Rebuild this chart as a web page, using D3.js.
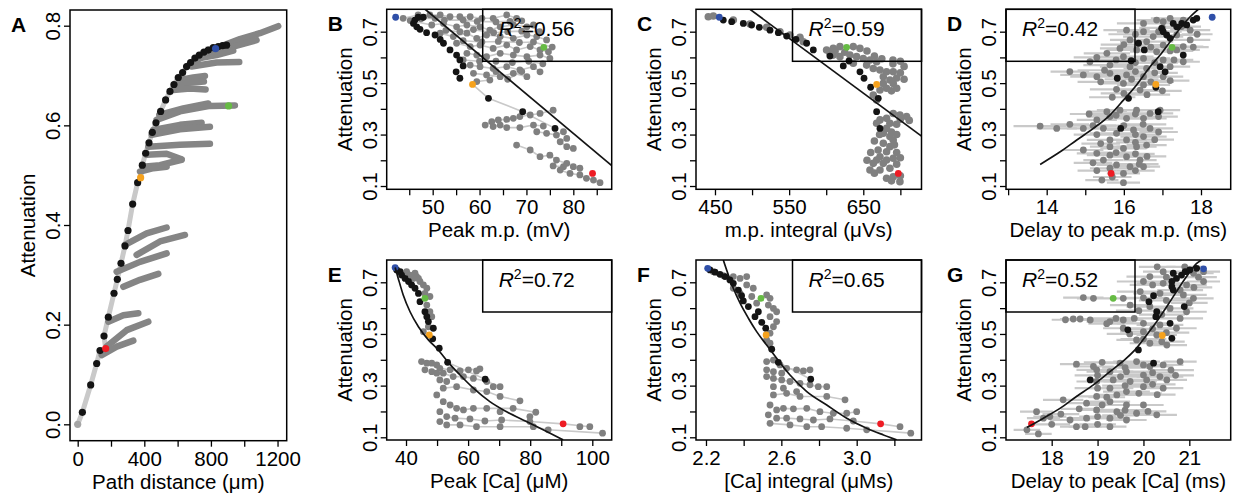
<!DOCTYPE html>
<html>
<head>
<meta charset="utf-8">
<script src="https://cdn.jsdelivr.net/npm/d3@7"></script>
<style>
  body { margin: 0; background: #fff; }
  svg { display: block; font-family: "Liberation Sans", Arial, Helvetica, sans-serif; }
</style>
</head>
<body>
<svg id="chart"></svg>
<script>
// ---- data ----

// A: attenuation vs path distance
const aOrigin = [0, 0.0];
const aBlack = [[28,0.024],[78,0.079],[114,0.122],[134,0.148],[158,0.177],[184,0.215],[218,0.263],[238,0.291],
  [260,0.323],[284,0.358],[302,0.389],[330,0.442],[360,0.485],[388,0.520],[408,0.544],[428,0.565],[448,0.586],
  [470,0.605],[498,0.628],[528,0.651],[554,0.668],[578,0.682],[604,0.696],[630,0.706],[654,0.718],[678,0.726],
  [704,0.735],[730,0.741],[758,0.747],[784,0.751],[814,0.756],[844,0.758],[870,0.760],[894,0.761]];
const aBranches = [
  [[654,0.718],[834,0.755],[974,0.773],[1094,0.785],[1204,0.799]],
  [[814,0.748],[934,0.758],[1074,0.771]],
  [[734,0.735],[834,0.741],[934,0.750]],
  [[684,0.718],[834,0.726],[970,0.727]],
  [[614,0.691],[694,0.696],[764,0.699]],
  [[604,0.683],[684,0.686],[758,0.688]],
  [[574,0.671],[674,0.674],[768,0.672]],
  [[490,0.621],[634,0.634],[784,0.644]],
  [[474,0.611],[614,0.628],[794,0.639],[944,0.640]],
  [[454,0.591],[614,0.601],[744,0.605]],
  [[444,0.581],[614,0.592],[794,0.597]],
  [[424,0.557],[614,0.561],[794,0.563]],
  [[414,0.541],[534,0.543],[624,0.532]],
  [[394,0.517],[494,0.520],[624,0.531]],
  [[374,0.507],[454,0.514],[534,0.517]],
  [[284,0.360],[414,0.383],[534,0.395]],
  [[354,0.340],[494,0.367],[644,0.380]],
  [[234,0.306],[374,0.326],[534,0.343]],
  [[274,0.276],[374,0.290],[484,0.302]],
  [[184,0.206],[274,0.219],[364,0.223]],
  [[174,0.156],[294,0.189],[424,0.206]],
  [[144,0.139],[234,0.156],[334,0.168]]
];
// highlighted sites: blue, green, orange, red
const aHigh = [[828,0.754],[906,0.639],[378,0.495],[168,0.152]];

// B: attenuation vs peak m.p.
const bRows = [
  [[43.7,0.752],[46.9,0.765],[49.4,0.765],[51.6,0.765],[53.7,0.758],[55.8,0.758],[58.0,0.758],[60.5,0.752],[62.9,0.752],[65.8,0.765],[67.9,0.752]],
  [[47.5,0.750],[50.5,0.752],[52.5,0.745],[56.5,0.745],[59.5,0.740],[63.5,0.738],[66.5,0.740],[69.0,0.742]],
  [[45.2,0.743],[49.8,0.726],[52.3,0.732],[55.1,0.719],[57.3,0.726],[60.1,0.719],[62.2,0.706],[64.4,0.719],[67.2,0.726],[70.1,0.719],[71.5,0.726]],
  [[52.8,0.705],[55.8,0.700],[58.7,0.708],[63.0,0.696],[66.0,0.700],[69.0,0.702],[72.8,0.700]],
  [[51.6,0.694],[54.4,0.681],[57.3,0.694],[59.4,0.674],[61.5,0.687],[64.4,0.681],[67.2,0.674],[70.1,0.687],[72.2,0.681],[74.3,0.668]],
  [[56.5,0.665],[60.5,0.660],[64.0,0.662],[68.5,0.658],[71.5,0.660],[75.5,0.640]],
  [[55.1,0.655],[58.0,0.642],[60.1,0.648],[62.9,0.635],[65.8,0.648],[67.9,0.629],[70.8,0.642],[72.9,0.629],[74.7,0.622]],
  [[57.3,0.616],[59.4,0.609],[61.5,0.603],[64.4,0.616],[67.2,0.609],[70.1,0.603],[72.9,0.609],[75.0,0.596]],
  [[56.5,0.590],[60.0,0.585],[63.5,0.585],[67.0,0.580],[70.5,0.585],[73.5,0.575]],
  [[58.0,0.570],[60.1,0.564],[62.9,0.557],[65.8,0.564],[68.6,0.551],[71.5,0.564],[72.9,0.544]],
  [[58.7,0.538],[61.5,0.532],[64.4,0.525],[67.2,0.538],[70.1,0.525]],
  [[59.4,0.506],[62.2,0.512],[63.5,0.545],[66.0,0.515],[69.0,0.545]],
  [[61.2,0.337],[62.6,0.350],[64.0,0.357],[65.8,0.359],[67.2,0.363],[68.6,0.370],[70.8,0.376],[72.9,0.382],[75.7,0.395]],
  [[62.9,0.331],[64.4,0.337],[65.8,0.327],[68.6,0.327],[71.5,0.337],[73.6,0.333]],
  [[72.2,0.311],[74.3,0.305],[76.4,0.298],[77.9,0.311]],
  [[78.6,0.285],[77.2,0.272],[78.6,0.253],[80.0,0.246]],
  [[67.9,0.259],[70.8,0.240],[72.9,0.214],[75.0,0.220],[76.4,0.201],[78.6,0.188],[80.0,0.175],[81.4,0.169]],
  [[75.7,0.178],[77.9,0.175],[77.2,0.162],[79.3,0.149],[81.4,0.143],[82.8,0.130],[84.3,0.123],[85.7,0.113]]
];
const bTrunk = [[58.5,0.495],[61.9,0.441],[69.2,0.389],[76.1,0.324]];
const bBlack = [[45.9,0.732],[46.2,0.745],[46.9,0.756],[48.0,0.756],[46.6,0.719],[47.3,0.709],[48.7,0.696],[50.5,0.687],
  [51.6,0.670],[52.3,0.655],[53.7,0.629],[55.1,0.609],[55.8,0.590],[56.5,0.567],[55.0,0.544],[55.8,0.519],
  [61.9,0.441],[69.2,0.389],[76.1,0.324]];
const bHigh = [[42.1,0.756],[73.7,0.639],[58.5,0.495],[84.1,0.149]];
const bFit = [[48.4,0.787],[88.2,0.179]];

// C: attenuation vs m.p. integral
const cGray = [[441.0,0.758],[447.8,0.761],[474.7,0.745],[497.2,0.730],[519.7,0.717],[537.6,0.700],[551.1,0.687],[564.6,0.678],[569.1,0.661],
  [600.5,0.629],[609.5,0.635],[618.5,0.642],[636.5,0.642],[645.5,0.635],[612,0.625],[625,0.620],[655,0.625],
  [605.0,0.616],[609.5,0.609],[618.5,0.603],[632.0,0.609],[641.0,0.603],[650.0,0.596],[659.0,0.590],[668.0,0.583],
  [665,0.605],[675,0.595],[690,0.590],[700,0.585],[690,0.575],[705,0.565],[700,0.540],[695,0.520],[705,0.515],
  [636.5,0.577],[654.5,0.570],[663.5,0.557],[672.5,0.551],[681.4,0.544],[690.4,0.544],
  [677.0,0.525],[685.9,0.512],[690.4,0.499],[677.0,0.499],[681.4,0.480],[672.5,0.473],[663.5,0.454],[668.0,0.434],
  [688,0.470],[695,0.480],
  [668.0,0.344],[672.5,0.357],[681.4,0.363],[690.4,0.382],[699.4,0.376],[708.4,0.370],[700,0.360],[712,0.355],[695,0.340],
  [685.9,0.344],[681.4,0.324],[677.0,0.305],[685.9,0.292],[690.4,0.279],[677.0,0.266],[685.9,0.253],[681.4,0.233],
  [688,0.310],[695,0.300],[672,0.300],[665,0.275],[692,0.260],[670,0.240],[695,0.230],[660,0.230],
  [672.5,0.214],[668.0,0.201],[681.4,0.201],[690.4,0.208],[677.0,0.188],[663.5,0.188],[700,0.210],[655,0.200],[695,0.185],
  [659.0,0.162],[672.5,0.162],[685.9,0.169],[681.4,0.130],[690.4,0.136],[699.4,0.117],[665,0.150],[700,0.140],[688,0.120]];
const cBlack = [[461.2,0.745],[472.5,0.739],[488.2,0.732],[499.4,0.726],[509.8,0.717],[524.2,0.706],[535.4,0.696],
  [546.6,0.683],[559.2,0.670],[573.6,0.655],[582.6,0.629],[605.0,0.605],[623.0,0.567],[630.7,0.586],[645.5,0.544],
  [651.0,0.519],[659.9,0.484],[670.2,0.441],[668.0,0.389],[672.5,0.324]];
const cHigh = [[455.8,0.756],[627.5,0.639],[668.0,0.495],[697.2,0.149]];
const cFit = [[497.2,0.787],[728.5,0.294]];

// D: attenuation vs delay to peak m.p. (x, y, half error)
const dGray = [[16.85,0.745,0.52],[16.51,0.732,0.69],[17.02,0.739,0.60],[17.54,0.745,0.43],[17.72,0.706,0.52],
  [16.07,0.706,0.60],[16.51,0.700,0.69],[16.76,0.681,0.78],[17.37,0.687,0.60],[17.72,0.668,0.52],[16.16,0.668,0.52],
  [16.59,0.661,0.69],[17.02,0.648,0.60],[17.54,0.642,0.52],[15.90,0.635,0.52],[16.33,0.629,0.78],[16.85,0.622,0.69],
  [17.37,0.629,0.60],[15.56,0.616,0.60],[15.99,0.603,0.78],[16.51,0.596,0.69],[17.02,0.590,0.60],[17.54,0.583,0.43],
  [15.12,0.583,0.52],[15.64,0.570,0.69],[16.16,0.564,0.78],[16.59,0.557,0.60],[17.20,0.564,0.52],[14.95,0.532,0.60],
  [15.30,0.525,0.69],[15.64,0.538,0.78],[16.07,0.532,0.69],[16.51,0.525,0.60],[17.02,0.525,0.52],[15.99,0.499,0.60],
  [16.51,0.493,0.69],[15.81,0.476,0.69],[16.42,0.473,0.60],
  [17.2,0.752,0.5],[17.5,0.720,0.5],[17.0,0.715,0.6],[16.3,0.690,0.7],[16.9,0.700,0.6],[17.9,0.690,0.4],[16.0,0.650,0.6],
  [16.7,0.640,0.7],[17.2,0.625,0.6],[17.8,0.640,0.4],[15.3,0.600,0.6],[15.8,0.590,0.7],[16.3,0.580,0.7],[16.8,0.580,0.6],
  [17.3,0.590,0.5],[14.6,0.545,0.5],[15.5,0.550,0.7],[16.3,0.545,0.7],[16.8,0.540,0.6],[15.4,0.505,0.6],[16.2,0.515,0.7],
  [16.7,0.505,0.6],[17.2,0.510,0.5],[16.0,0.460,0.6],[16.6,0.455,0.6],[15.7,0.445,0.6],[17.0,0.470,0.5],
  [15.56,0.389,0.52],[15.90,0.395,0.60],[16.33,0.395,0.69],[16.68,0.382,0.60],[16.94,0.395,0.52],[15.64,0.370,0.60],
  [16.07,0.363,0.69],[16.51,0.363,0.60],[15.30,0.357,0.52],[14.95,0.324,0.43],[14.26,0.324,0.52],[13.83,0.333,0.69],
  [15.47,0.324,0.60],[15.81,0.305,0.69],[16.25,0.318,0.69],[16.68,0.324,0.60],[15.64,0.279,0.60],[16.07,0.279,0.52],
  [16.51,0.292,0.60],[15.64,0.253,0.52],[15.99,0.246,0.60],[16.33,0.253,0.52],[16.59,0.259,0.52],[15.30,0.227,0.52],
  [15.64,0.220,0.60],[16.07,0.214,0.52],[16.42,0.201,0.43],[15.47,0.201,0.52],[15.81,0.182,0.52],[16.16,0.175,0.52],
  [16.51,0.175,0.43],[15.64,0.169,0.52],[15.99,0.149,0.43],[15.43,0.123,0.43],[15.99,0.113,0.43],[14.95,0.240,0.52],
  [15.1,0.380,0.5],[15.8,0.375,0.6],[16.3,0.380,0.6],[16.9,0.370,0.5],[14.6,0.340,0.5],[15.2,0.335,0.6],[16.0,0.335,0.6],
  [16.5,0.340,0.6],[15.3,0.300,0.6],[16.3,0.300,0.6],[16.9,0.310,0.5],[15.4,0.265,0.5],[16.3,0.270,0.5],[16.8,0.280,0.5],
  [15.8,0.230,0.6],[16.3,0.225,0.5],[15.2,0.190,0.5],[16.4,0.185,0.5],[15.3,0.160,0.5],[16.3,0.160,0.5],[15.7,0.135,0.5],
  [16.6,0.215,0.5]];
const dBlack = [[17.28,0.732],[17.37,0.719],[17.50,0.732],[17.63,0.726],[17.80,0.745],[17.89,0.752],[16.98,0.713],
  [17.02,0.700],[17.11,0.687],[17.20,0.674],[16.38,0.655],[16.53,0.629],[16.19,0.587],[16.94,0.564],[17.07,0.544],
  [17.54,0.609],[15.83,0.519],[16.12,0.441],[16.89,0.389],[15.92,0.324],[16.83,0.484]];
const dHigh = [[18.29,0.756],[17.25,0.639],[16.83,0.495],[15.67,0.149]];
const dFit = [[13.83,0.184],[14.35,0.233],[14.78,0.279],[15.21,0.324],[15.64,0.376],[15.99,0.434],[16.33,0.493],
  [16.68,0.564],[16.94,0.609],[17.20,0.661],[17.46,0.713],[17.72,0.758],[17.93,0.787]];

// E: attenuation vs peak [Ca]
const eGray = [[40.2,0.741],[41.3,0.728],[42.4,0.715],[43.4,0.722],[44.5,0.703],[45.6,0.690],[46.7,0.677],[44.0,0.715],
  [42.9,0.735],[46.1,0.657],[47.7,0.645],[46.7,0.612],[47.7,0.586],[48.3,0.567],[47.2,0.528],[45.6,0.509],
  [45.0,0.393],[46.7,0.387],[48.3,0.387],[49.9,0.380],[50.9,0.367],[46.1,0.361],[48.3,0.354],[49.9,0.348],[52.0,0.348],
  [54.2,0.361],[57.4,0.357],[60.1,0.361],[62.7,0.357],[63.8,0.365],[55.2,0.335],[58.5,0.335],[61.7,0.328],[66.0,0.316],
  [68.1,0.296],[70.3,0.296],[50.9,0.322],[53.1,0.316],[52.0,0.290],[49.9,0.264],[56.3,0.296],[61.7,0.283],[66.0,0.277],
  [70.3,0.258],[76.7,0.241],[52.0,0.238],[54.2,0.225],[56.3,0.212],[58.5,0.206],[61.7,0.212],[66.0,0.212],[70.3,0.199],
  [74.5,0.212],[79.9,0.180],[81.8,0.197],[50.9,0.199],[53.1,0.180],[55.8,0.174],[60.6,0.171],[65.4,0.163],[70.8,0.167],
  [79.9,0.161],[50.9,0.161],[53.1,0.148],[57.4,0.148],[62.7,0.141],[70.3,0.141],[81.0,0.141],[85.8,0.129],[96.0,0.141],
  [99.2,0.141],[103.3,0.116]];
const eLinks = [
  [[50.9,0.367],[54.2,0.361],[57.4,0.357],[60.1,0.361],[63.8,0.365]],
  [[52.0,0.348],[55.2,0.335],[58.5,0.335],[61.7,0.328],[66.0,0.316],[70.3,0.296]],
  [[52.0,0.290],[56.3,0.296],[61.7,0.283],[66.0,0.277],[70.3,0.258],[76.7,0.241]],
  [[54.2,0.225],[58.5,0.206],[61.7,0.212],[66.0,0.212],[74.5,0.212],[81.8,0.197]],
  [[53.1,0.180],[55.8,0.174],[60.6,0.171],[65.4,0.163],[70.8,0.167],[79.9,0.161],[90.6,0.152],[99.2,0.141]],
  [[53.1,0.148],[57.4,0.148],[62.7,0.141],[70.3,0.141],[81.0,0.141],[85.8,0.129],[103.3,0.116]],
  [[53.4,0.390],[65.5,0.325]]
];
const eBlack = [[37.0,0.748],[38.1,0.741],[38.6,0.728],[39.7,0.715],[40.8,0.703],[41.8,0.690],[42.9,0.677],[44.0,0.657],
  [44.5,0.625],[46.1,0.586],[46.7,0.567],[47.2,0.548],[48.8,0.522],[48.6,0.481],[50.7,0.445],[53.4,0.390],[65.5,0.325]];
const eHigh = [[36.5,0.757],[46.1,0.638],[47.5,0.496],[90.6,0.152]];
const eFit = [[36.5,0.757],[37.5,0.715],[39.1,0.651],[41.3,0.586],[44.0,0.528],[47.2,0.477],[50.4,0.438],[53.6,0.390],
  [57.4,0.341],[61.7,0.290],[67.0,0.238],[72.4,0.199],[78.8,0.161],[85.3,0.122],[90.6,0.090]];

// F: attenuation vs [Ca] integral
const fGray = [[2.239,0.741],[2.292,0.726],[2.345,0.722],[2.381,0.715],[2.416,0.722],[2.416,0.690],[2.451,0.677],
  [2.345,0.677],[2.381,0.657],[2.443,0.645],[2.522,0.651],[2.540,0.638],[2.469,0.619],[2.531,0.612],[2.558,0.599],
  [2.575,0.586],[2.540,0.567],[2.575,0.548],[2.558,0.528],[2.540,0.503],[2.522,0.477],[2.540,0.464],
  [2.522,0.393],[2.558,0.399],[2.593,0.380],[2.628,0.367],[2.681,0.361],[2.717,0.357],[2.752,0.361],[2.522,0.361],
  [2.558,0.354],[2.602,0.348],[2.522,0.335],[2.558,0.328],[2.602,0.322],[2.646,0.316],[2.699,0.309],[2.752,0.303],
  [2.796,0.296],[2.841,0.296],[2.558,0.296],[2.611,0.290],[2.681,0.277],[2.558,0.264],[2.628,0.270],[2.699,0.258],
  [2.841,0.258],[2.938,0.245],[2.540,0.225],[2.575,0.206],[2.611,0.212],[2.664,0.210],[2.735,0.212],[2.805,0.199],
  [2.876,0.193],[2.947,0.193],[3.000,0.199],[2.531,0.187],[2.575,0.174],[2.628,0.174],[2.699,0.171],[2.770,0.167],
  [2.858,0.171],[2.982,0.163],[2.540,0.154],[2.646,0.148],[2.735,0.141],[2.814,0.141],[2.947,0.135],[3.053,0.129],
  [3.230,0.141],[3.287,0.116]];
const fLinks = [
  [[2.522,0.393],[2.558,0.399],[2.593,0.380],[2.628,0.367],[2.681,0.361],[2.717,0.357],[2.752,0.361]],
  [[2.522,0.335],[2.558,0.328],[2.602,0.322],[2.646,0.316],[2.699,0.309],[2.752,0.303],[2.796,0.296],[2.841,0.296]],
  [[2.558,0.264],[2.628,0.270],[2.699,0.258],[2.841,0.258],[2.938,0.245]],
  [[2.575,0.206],[2.611,0.212],[2.664,0.210],[2.735,0.212],[2.805,0.199],[2.876,0.193],[2.947,0.193],[3.000,0.199]],
  [[2.575,0.174],[2.628,0.174],[2.699,0.171],[2.770,0.167],[2.858,0.171],[2.982,0.163],[3.127,0.152],[3.230,0.141]],
  [[2.540,0.154],[2.646,0.148],[2.735,0.141],[2.814,0.141],[2.947,0.135],[3.053,0.129],[3.287,0.116]],
  [[2.584,0.390],[2.756,0.325]]
];
const fBlack = [[2.221,0.748],[2.248,0.739],[2.274,0.731],[2.301,0.722],[2.327,0.709],[2.345,0.696],[2.372,0.670],
  [2.389,0.648],[2.398,0.628],[2.425,0.606],[2.478,0.586],[2.460,0.567],[2.496,0.545],[2.517,0.522],[2.549,0.441],
  [2.584,0.390],[2.756,0.325]];
const fHigh = [[2.209,0.754],[2.492,0.638],[2.519,0.496],[3.127,0.152]];
const fFit = [[2.292,0.786],[2.319,0.728],[2.345,0.677],[2.381,0.619],[2.425,0.561],[2.469,0.509],[2.522,0.457],
  [2.575,0.406],[2.646,0.341],[2.735,0.277],[2.841,0.225],[2.947,0.174],[3.053,0.135],[3.142,0.109],[3.212,0.090]];

// G: attenuation vs delay to peak [Ca] (x, y, half error)
const gGray = [[20.14,0.722,0.51],[20.43,0.741,0.44],[21.09,0.735,0.44],[21.31,0.741,0.36],[20.00,0.703,0.58],
  [20.43,0.696,0.58],[20.94,0.690,0.44],[21.31,0.703,0.36],[19.93,0.664,0.51],[20.36,0.657,0.58],[20.87,0.651,0.51],
  [21.09,0.638,0.44],[18.69,0.641,0.44],[18.91,0.638,0.36],[19.56,0.638,0.29],[19.71,0.612,0.44],[20.14,0.606,0.51],
  [20.58,0.599,0.51],[20.94,0.586,0.44],[18.47,0.558,0.29],[18.62,0.558,0.36],[18.84,0.554,0.44],[19.27,0.548,0.51],
  [19.56,0.554,0.44],[20.00,0.541,0.58],[20.36,0.535,0.51],[20.72,0.522,0.44],[19.56,0.522,0.44],[20.00,0.509,0.51],
  [20.29,0.496,0.44],[19.85,0.477,0.44],[20.14,0.464,0.44],[20.51,0.457,0.44],
  [20.3,0.760,0.4],[20.9,0.760,0.4],[21.2,0.720,0.4],[20.5,0.720,0.5],[20.2,0.690,0.5],[20.8,0.670,0.5],[21.1,0.680,0.4],
  [20.0,0.640,0.5],[20.5,0.630,0.6],[21.0,0.620,0.4],[19.9,0.590,0.5],[20.4,0.575,0.5],[20.8,0.560,0.5],[19.4,0.560,0.5],
  [19.8,0.560,0.5],[20.2,0.520,0.5],[20.5,0.505,0.5],[19.7,0.500,0.5],[20.0,0.480,0.5],[20.4,0.470,0.5],[19.2,0.540,0.4],
  [18.3,0.555,0.3],
  [18.54,0.383,0.36],[18.91,0.374,0.44],[18.98,0.361,0.44],[19.49,0.387,0.44],[19.85,0.393,0.51],[20.14,0.374,0.51],
  [20.43,0.380,0.44],[20.80,0.393,0.36],[19.27,0.354,0.51],[19.63,0.354,0.58],[20.00,0.341,0.58],[20.36,0.335,0.51],
  [18.98,0.316,0.44],[19.34,0.322,0.58],[19.71,0.316,0.58],[20.07,0.322,0.51],[20.51,0.322,0.44],[19.27,0.290,0.51],
  [19.63,0.277,0.51],[20.00,0.296,0.44],[20.43,0.290,0.44],[18.98,0.258,0.44],[19.42,0.264,0.44],[18.25,0.245,0.44],
  [18.76,0.232,0.44],[19.27,0.238,0.44],[19.63,0.225,0.51],[20.00,0.225,0.44],[18.98,0.206,0.44],[19.42,0.199,0.51],
  [19.85,0.193,0.44],[20.29,0.187,0.44],[18.76,0.174,0.44],[19.27,0.174,0.44],[19.63,0.167,0.44],[18.40,0.167,0.44],
  [18.54,0.141,0.36],[18.73,0.141,0.36],[17.67,0.199,0.36],[17.82,0.174,0.36],[17.96,0.180,0.36],[17.46,0.129,0.29],
  [17.71,0.113,0.29],[19.27,0.141,0.36],
  [19.1,0.390,0.4],[19.6,0.370,0.5],[20.0,0.380,0.5],[20.6,0.360,0.5],[19.0,0.340,0.5],[19.5,0.335,0.5],[20.2,0.350,0.5],
  [20.7,0.340,0.4],[19.6,0.300,0.5],[20.2,0.305,0.5],[19.0,0.290,0.5],[19.9,0.270,0.5],[20.3,0.265,0.4],[19.2,0.255,0.4],
  [18.6,0.210,0.4],[19.1,0.225,0.4],[19.6,0.205,0.5],[20.1,0.200,0.4],[19.0,0.180,0.4],[19.5,0.185,0.4],[18.2,0.190,0.4],
  [18.0,0.150,0.4],[19.0,0.150,0.4]];
const gBlack = [[20.65,0.735],[20.72,0.715],[20.83,0.728],[20.91,0.741],[21.01,0.748],[21.16,0.754],[20.62,0.703],
  [20.62,0.683],[20.65,0.670],[20.22,0.648],[20.12,0.625],[20.29,0.586],[20.27,0.567],[20.58,0.541],[20.89,0.606],
  [19.66,0.516],[20.62,0.483],[19.89,0.438],[20.22,0.387],[18.84,0.322]];
const gHigh = [[21.31,0.752],[19.34,0.638],[20.41,0.494],[17.56,0.152]];
const gFit = [[17.46,0.138],[17.82,0.174],[18.18,0.212],[18.54,0.258],[18.91,0.303],[19.27,0.354],[19.63,0.406],
  [19.85,0.445],[20.07,0.496],[20.29,0.548],[20.51,0.606],[20.72,0.664],[20.94,0.722],[21.16,0.773],[21.27,0.786]];

// ticks, labels, titles
const aXTicks = [0,200,400,600,800,1000,1200], aXLabels = [0,400,800,1200];
const aYTicks = [0,0.2,0.4,0.6,0.8];
const smallYTicks = [0.1,0.2,0.3,0.4,0.5,0.6,0.7], smallYLabels = [0.1,0.3,0.5,0.7];
const bXTicks = [45,50,55,60,65,70,75,80,85], bXLabels = [50,60,70,80];
const cXTicks = [450,500,550,600,650,700], cXLabels = [450,550,650];
const dXTicks = [13,14,15,16,17,18], dXLabels = [14,16,18];
const eXTicks = [40,50,60,70,80,90,100], eXLabels = [40,60,80,100];
const fXTicks = [2.2,2.4,2.6,2.8,3.0,3.2], fXLabels = [2.2,2.6,3.0];
const gXTicks = [18,19,20,21], gXLabels = [18,19,20,21];
const r2Labels = {B:"0.56", C:"0.59", D:"0.42", E:"0.72", F:"0.65", G:"0.52"};
const xTitles = {A:"Path distance (μm)", B:"Peak m.p. (mV)", C:"m.p. integral (μVs)", D:"Delay to peak m.p. (ms)",
  E:"Peak [Ca] (μM)", F:"[Ca] integral (μMs)", G:"Delay to peak [Ca] (ms)"};

// ---- layout ----
const colors = {gray:"#808080", light:"#c9c9c9", black:"#141414",
  high:["#2f4fa8","#66bb44","#f6a21d","#ee1c24"]};
const FS = 20.5;

const top1 = {top:9.3, bottom:189.3}, top2 = {top:260, bottom:440};
const panels = [
  {id:"A", left:70, right:286.7, top:10, bottom:440.7, xd:[-46.2,1255], yd:[-0.0329,0.8315],
   xTicks:aXTicks, xLabels:aXLabels, yTicks:aYTicks, yLabels:aYTicks, xf:d3.format("d"), yf:d3.format(".1f")},
  {id:"B", left:386.7, right:611.7, ...top1, xd:[40.19,88.19], yd:[0.0872,0.787], xTicks:bXTicks, xLabels:bXLabels,
   rows:bRows, links:bRows.concat([bTrunk]), black:bBlack, high:bHigh, fit:bFit, r2side:"right", xf:d3.format("d")},
  {id:"C", left:696, right:921.5, ...top1, xd:[424.4,728.5], yd:[0.0872,0.787], xTicks:cXTicks, xLabels:cXLabels,
   rows:[cGray], links:[], black:cBlack, high:cHigh, fit:cFit, r2side:"right", xf:d3.format("d"), big:true},
  {id:"D", left:1006, right:1230.7, ...top1, xd:[12.945,18.77], yd:[0.0872,0.787], xTicks:dXTicks, xLabels:dXLabels,
   errs:dGray, black:dBlack, high:dHigh, fit:dFit, curved:true, r2side:"left", xf:d3.format("d")},
  {id:"E", left:386.7, right:611.7, ...top2, xd:[33.78,106.25], yd:[0.0895,0.7863], xTicks:eXTicks, xLabels:eXLabels,
   rows:[eGray], links:eLinks, black:eBlack, high:eHigh, fit:eFit, curved:true, r2side:"right", xf:d3.format("d")},
  {id:"F", left:696, right:921.5, ...top2, xd:[2.147,3.344], yd:[0.0895,0.7863], xTicks:fXTicks, xLabels:fXLabels,
   rows:[fGray], links:fLinks, black:fBlack, high:fHigh, fit:fFit, curved:true, r2side:"right", xf:d3.format(".1f")},
  {id:"G", left:1006, right:1230.7, ...top2, xd:[17.004,21.902], yd:[0.0895,0.7863], xTicks:gXTicks, xLabels:gXLabels,
   errs:gGray, black:gBlack, high:gHigh, fit:gFit, curved:true, r2side:"left", xf:d3.format("d")}
];

const svg = d3.select("#chart").attr("width", 1234).attr("height", 495);
const defs = svg.append("defs");

panels.forEach(p => drawPanel(p));

function drawPanel(p) {
  const x = d3.scaleLinear().domain(p.xd).range([p.left, p.right]);
  const y = d3.scaleLinear().domain(p.yd).range([p.bottom, p.top]);
  const line = d3.line().x(d => x(d[0])).y(d => y(d[1]));
  const r = p.big ? 3.8 : 3.4;

  defs.append("clipPath").attr("id", "clip-" + p.id)
    .append("rect")
    .attr("x", p.left).attr("y", p.top)
    .attr("width", p.right - p.left).attr("height", p.bottom - p.top);

  const plot = svg.append("g").attr("clip-path", `url(#clip-${p.id})`);

  if (p.id === "A") {
    // light trunk through the main dendrite
    const trunk = [aOrigin].concat(aBlack, aHigh.filter((d, i) => i !== 1)).sort((a, b) => a[1] - b[1]);
    plot.append("path").attr("d", line(trunk))
      .attr("fill", "none").attr("stroke", colors.light).attr("stroke-width", 5).attr("stroke-linecap", "round");
    plot.selectAll(".branch").data(aBranches).join("path")
      .attr("class", "branch")
      .attr("d", d => line(d))
      .attr("fill", "none").attr("stroke", "#858585")
      .attr("stroke-width", 6.5).attr("stroke-linecap", "round").attr("stroke-linejoin", "round");
    plot.append("circle").attr("cx", x(aOrigin[0])).attr("cy", y(aOrigin[1])).attr("r", 3.6).attr("fill", "#a6a6a6");
    plot.selectAll(".blk").data(aBlack).join("circle")
      .attr("class", "blk").attr("cx", d => x(d[0])).attr("cy", d => y(d[1])).attr("r", 3.6).attr("fill", colors.black);
    plot.selectAll(".hl").data(aHigh).join("circle")
      .attr("class", "hl").attr("cx", d => x(d[0])).attr("cy", d => y(d[1])).attr("r", 3.6)
      .attr("fill", (d, i) => colors.high[i]);
  } else {
    if (p.links) {
      plot.selectAll(".lnk").data(p.links).join("path")
        .attr("class", "lnk").attr("d", d => line(d))
        .attr("fill", "none").attr("stroke", colors.light).attr("stroke-width", 1.6);
    }
    if (p.errs) {
      plot.selectAll(".err").data(p.errs).join("line")
        .attr("class", "err")
        .attr("x1", d => x(d[0] - d[2])).attr("x2", d => x(d[0] + d[2]))
        .attr("y1", d => y(d[1])).attr("y2", d => y(d[1]))
        .attr("stroke", colors.light).attr("stroke-width", 2.2);
    }
    const gray = p.errs ? p.errs : p.rows.flat();
    plot.selectAll(".gry").data(gray).join("circle")
      .attr("class", "gry").attr("cx", d => x(d[0])).attr("cy", d => y(d[1])).attr("r", r).attr("fill", colors.gray);
    plot.selectAll(".blk").data(p.black).join("circle")
      .attr("class", "blk").attr("cx", d => x(d[0])).attr("cy", d => y(d[1])).attr("r", 3.4).attr("fill", colors.black);
    plot.selectAll(".hl").data(p.high).join("circle")
      .attr("class", "hl").attr("cx", d => x(d[0])).attr("cy", d => y(d[1])).attr("r", 3.4)
      .attr("fill", (d, i) => colors.high[i]);

    const fitLine = p.curved ? line.curve(d3.curveMonotoneX) : line;
    plot.append("path").attr("d", fitLine(p.fit))
      .attr("fill", "none").attr("stroke", colors.black).attr("stroke-width", 1.7);

    // R^2 legend box
    const bw = 129, bh = 52;
    const bx = p.r2side === "right" ? p.right - bw : p.left;
    svg.append("rect").attr("x", bx).attr("y", p.top).attr("width", bw).attr("height", bh)
      .attr("fill", "none").attr("stroke", "#000").attr("stroke-width", 1.5);
    const t = svg.append("text").attr("x", bx + 16).attr("y", p.top + 26.5).attr("font-size", 21);
    t.append("tspan").attr("font-style", "italic").text("R");
    t.append("tspan").attr("dy", -8).attr("font-size", 14).text("2");
    t.append("tspan").attr("dy", 8).text("=" + r2Labels[p.id]);
  }

  // frame
  svg.append("rect").attr("x", p.left).attr("y", p.top)
    .attr("width", p.right - p.left).attr("height", p.bottom - p.top)
    .attr("fill", "none").attr("stroke", "#000").attr("stroke-width", 1.5);

  // axes
  const xf = p.xf, yf = p.yf || d3.format(".1f");
  const xLab = p.xLabels, yLab = p.yLabels || smallYLabels;
  svg.append("g").attr("transform", `translate(0,${p.bottom})`)
    .call(d3.axisBottom(x).tickValues(p.xTicks).tickSize(6).tickFormat(d => xLab.includes(d) ? xf(d) : ""))
    .attr("font-size", FS).attr("font-family", null)
    .call(a => a.select(".domain").remove())
    .call(a => a.selectAll("line").attr("stroke-width", 1.3))
    .call(a => a.selectAll("text").attr("y", 10.5).attr("fill", "#000"));

  svg.append("g").attr("transform", `translate(${p.left},0)`)
    .call(d3.axisLeft(y).tickValues(p.yTicks || smallYTicks).tickSize(6).tickFormat(d => yLab.includes(d) ? yf(d) : ""))
    .attr("font-size", FS).attr("font-family", null)
    .call(a => a.select(".domain").remove())
    .call(a => a.selectAll("line").attr("stroke-width", 1.3))
    .call(a => a.selectAll("text")
      .attr("transform", "rotate(-90)").attr("x", 0).attr("y", -10).attr("dy", null)
      .attr("text-anchor", "middle").attr("fill", "#000"));

  // titles
  svg.append("text")
    .attr("x", (p.left + p.right) / 2).attr("y", p.bottom + 48)
    .attr("text-anchor", "middle").attr("font-size", FS)
    .text(xTitles[p.id]);
  svg.append("text")
    .attr("transform", `translate(${p.left - 35},${(p.top + p.bottom) / 2}) rotate(-90)`)
    .attr("text-anchor", "middle").attr("font-size", FS)
    .text("Attenuation");
  svg.append("text")
    .attr("x", p.left - 59).attr("y", p.top + 21.5)
    .attr("font-size", 21).attr("font-weight", "bold")
    .text(p.id);
}
</script>
</body>
</html>
